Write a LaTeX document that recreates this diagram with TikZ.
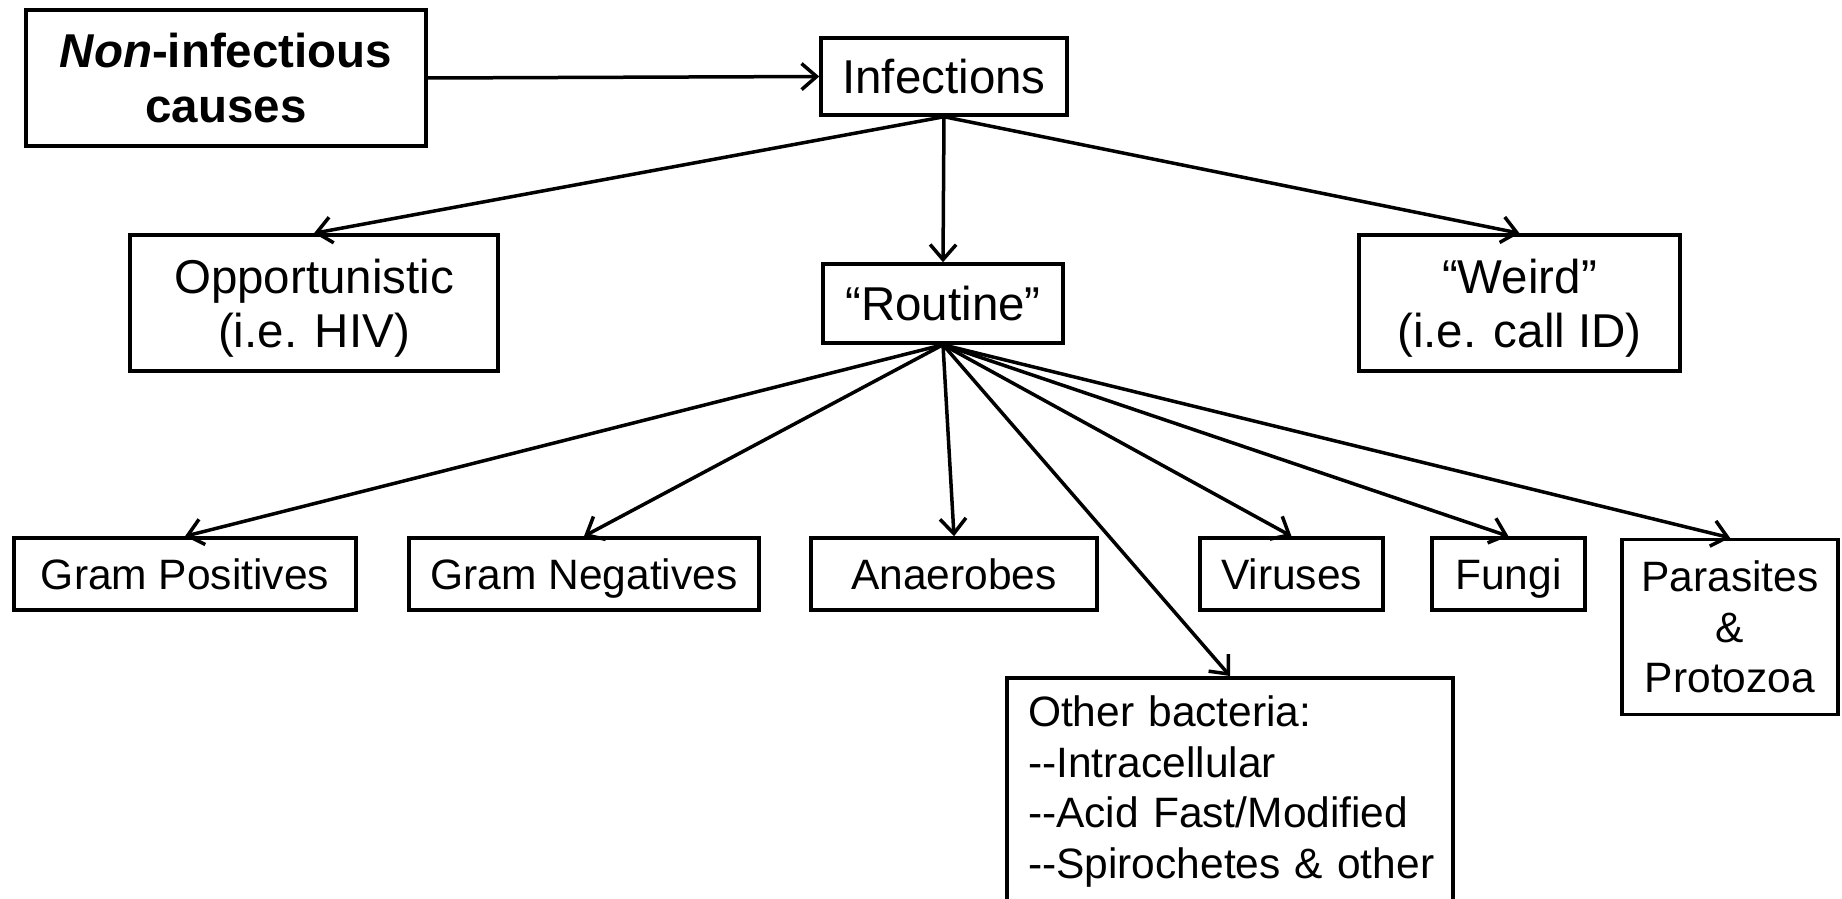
\documentclass[tikz,border=0pt]{standalone}
\usepackage{fontspec}
\setmainfont{Liberation Sans}
\usetikzlibrary{arrows.meta}
\begin{document}
\begin{tikzpicture}[x=1pt,y=-1pt,
  box/.style={draw, line width=3.5pt, inner sep=0pt, align=center},
  big/.style={font=\fontsize{47.5}{54.5}\selectfont},
  small/.style={font=\fontsize{42.5}{50.5}\selectfont},
  one/.style={text height=31pt, text depth=0pt},
  conn/.style={line width=3.5pt, -{Straight Barb[length=15pt,width=26pt,line width=3.5pt]}}]
\useasboundingbox (0,0) rectangle (1842,899);
\node[box,big,minimum width=400pt,minimum height=136pt] (non) at (226,78)
  {\bfseries\itshape Non\upshape-infectious\\\bfseries causes};
\node[box,big,one,text height=34pt,minimum width=246pt,minimum height=77pt] (inf) at (944,76.5) {Infections};
\node[box,big,minimum width=368pt,minimum height=136pt] (opp) at (314,303) {\rule{0pt}{45pt}Opportunistic\\(i.e. HIV)};
\node[box,big,one,text height=34pt,minimum width=240pt,minimum height=79pt] (rout) at (943,303.5) {“Routine”};
\node[box,big,minimum width=321pt,minimum height=136pt] (weird) at (1519.5,303) {\rule{0pt}{45pt}“Weird”\\(i.e. call ID)};
\node[box,small,one,minimum width=342pt,minimum height=72pt] (gpos) at (185,574) {Gram Positives};
\node[box,small,one,minimum width=350pt,minimum height=72pt] (gneg) at (584,574) {Gram Negatives};
\node[box,small,one,minimum width=286pt,minimum height=72pt] (anae) at (954,574) {Anaerobes};
\node[box,small,one,minimum width=183pt,minimum height=72pt] (vir) at (1291.5,574) {Viruses};
\node[box,small,one,minimum width=153pt,minimum height=72pt] (fungi) at (1508.5,574) {Fungi};
\node[box,small,minimum width=216pt,minimum height=175pt] (para) at (1730,627) {Parasites\\\&\\Protozoa};
\node[box,small,minimum height=228pt,anchor=north,align=left,text width=404pt,inner xsep=21pt] (oth) at (1230,676)
  {\mbox{Other bacteria:}\\\mbox{-{}-Intracellular}\\\mbox{-{}-Acid Fast/Modified}\\\mbox{-{}-Spirochetes \& other}};
\draw[conn] (non.east) -- (inf.west);
\draw[conn] (inf.south) -- (opp.north);
\draw[conn] (inf.south) -- (rout.north);
\draw[conn] (inf.south) -- (weird.north);
\draw[conn] (rout.south) -- (gpos.north);
\draw[conn] (rout.south) -- (gneg.north);
\draw[conn] (rout.south) -- (anae.north);
\draw[conn] (rout.south) -- (oth.north);
\draw[conn] (rout.south) -- (vir.north);
\draw[conn] (rout.south) -- (fungi.north);
\draw[conn] (rout.south) -- (para.north);
\end{tikzpicture}
\end{document}
